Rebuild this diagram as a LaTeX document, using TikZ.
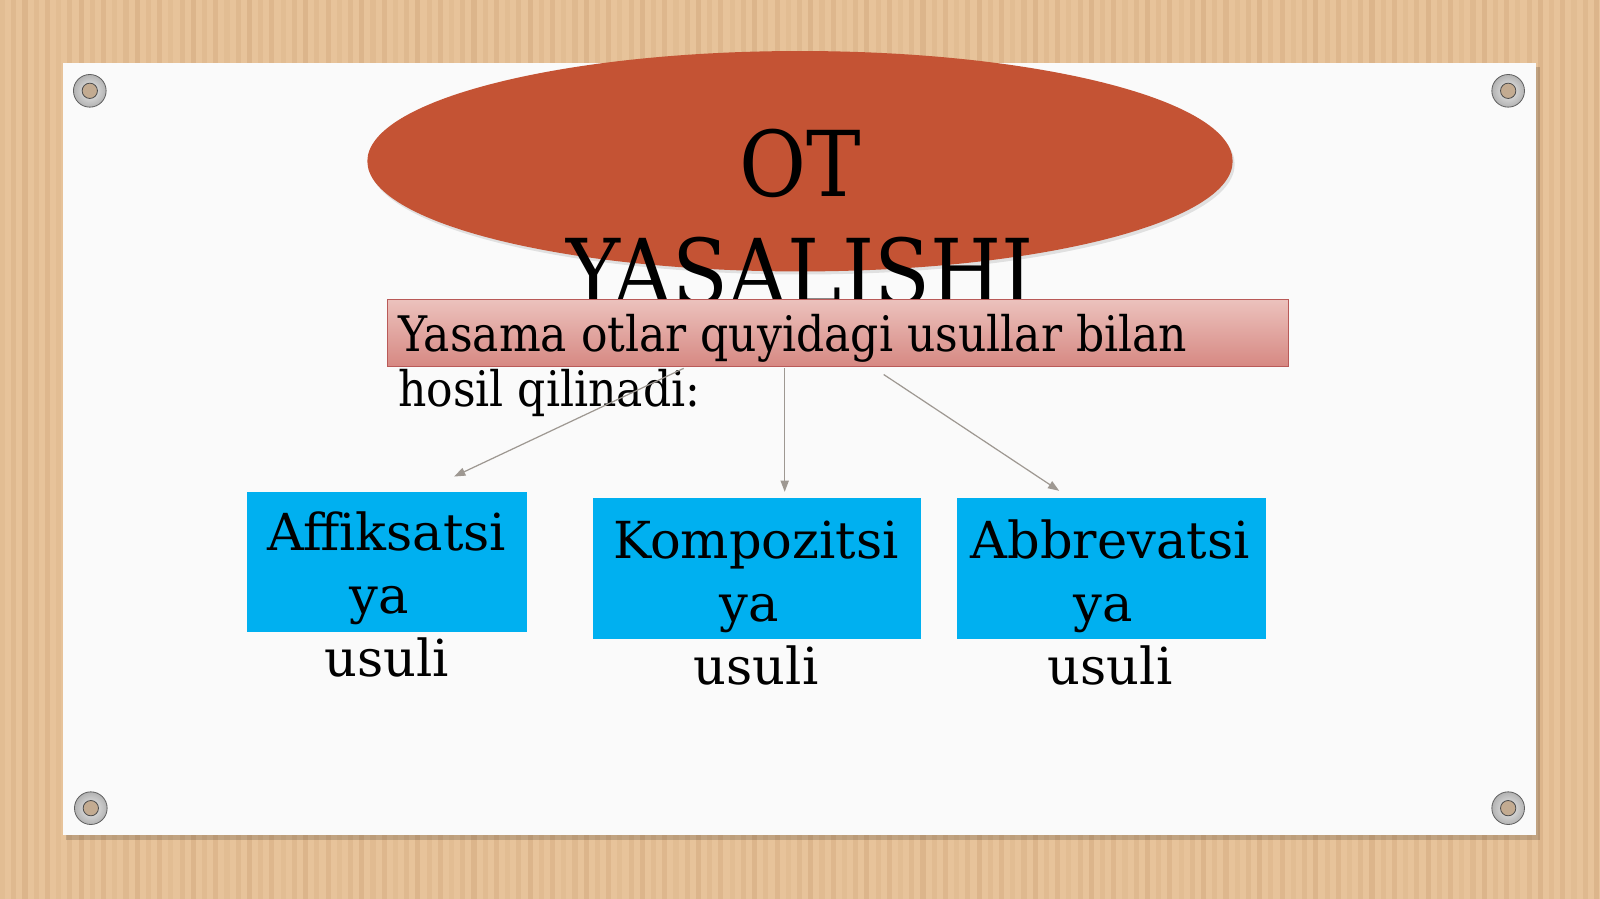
\documentclass[tikz,border=0pt]{standalone}
\usepackage{fontspec}
\setmainfont{DejaVu Serif}
\newfontfamily\narrowserif[FakeStretch=0.9]{DejaVu Serif}
\usetikzlibrary{shapes.geometric,arrows.meta,calc}
\definecolor{woodA}{RGB}{231,195,154}
\definecolor{woodB}{RGB}{214,173,130}
\definecolor{boardc}{RGB}{250,250,250}
\definecolor{ellc}{RGB}{196,83,52}
\definecolor{pinkT}{RGB}{236,194,189}
\definecolor{pinkB}{RGB}{214,136,130}
\definecolor{pinkD}{RGB}{185,90,88}
\definecolor{bluec}{RGB}{0,176,240}
\definecolor{arrc}{RGB}{158,152,146}
\tikzset{
  bluebox/.style={fill=bluec, draw=none, inner sep=0, anchor=north west},
  boxtext/.style={align=center, inner sep=0, anchor=base, font=\fontsize{50}{62}\selectfont},
  conn/.style={draw=arrc, line width=1.2pt, -{Triangle[length=11pt,width=8pt]}},
  screw/.style={circle, minimum size=32pt, inner sep=0, draw=gray!75!black, line width=0.8pt, inner color=gray!15, outer color=gray!60},
  hole/.style={circle, minimum size=15pt, inner sep=0, fill=woodA!65!gray, draw=gray!60!black, line width=0.8pt},
  titletext/.style={inner sep=0, anchor=base, font=\narrowserif\fontsize{89}{105}\selectfont}
}
\begin{document}
\begin{tikzpicture}[x=1pt,y=-1pt]
\useasboundingbox (0,0) rectangle (1568,881);
% wood background
\fill[woodA] (0,0) rectangle (1568,881);
\foreach \i in {0,...,143}{
  \pgfmathsetmacro{\xx}{\i*11}
  \pgfmathsetmacro{\op}{0.25+0.35*mod(\i*7,5)/4}
  \fill[woodB, opacity=\op] (\xx,0) rectangle ++(5,881);
}
% board
\fill[black, opacity=0.16] (65,66) rectangle (1509,823);
\fill[boardc] (62,62) rectangle (1505,818);
% screws
\foreach \n/\sx/\sy in {s1/88/89, s2/1478/89, s3/89/792, s4/1478/792}{
  \node[screw] (\n) at (\sx,\sy) {};
  \node[hole] (\n h) at (\sx,\sy) {};
}
% ellipse
\fill[black, opacity=0.10] (786,161) ellipse [x radius=424, y radius=108];
\node[ellipse, fill=ellc, minimum width=848pt, minimum height=216pt, inner sep=0] (ell) at (784,158) {};
\node[titletext] (t1) at (784,193) {OT};
\node[titletext] (t2) at (784,298) {YASALISHI};
% pink rectangle
\node[draw=pinkD, line width=0.8pt, top color=pinkT, bottom color=pinkB, minimum width=883pt, minimum height=66pt, inner sep=0, anchor=north west] (pink) at (379,293) {};
\node[inner sep=0, anchor=base west, align=left, font=\narrowserif\fontsize{48}{54}\selectfont] (ptext) at (390,398) {Yasama otlar quyidagi usullar bilan\\hosil qilinadi:};
% blue boxes
\node[bluebox, minimum width=274pt, minimum height=137pt] (b1) at (242,482) {};
\node[bluebox, minimum width=321pt, minimum height=138pt] (b2) at (581,488) {};
\node[bluebox, minimum width=302pt, minimum height=138pt] (b3) at (938,488) {};
\node[boxtext] (bt1) at (379,663) {Affiksatsi\\ya\kern14pt\\usuli};
\node[boxtext] (bt2) at (741,671) {Kompozitsi\\ya\kern14pt\\usuli};
\node[boxtext] (bt3) at (1088,671) {Abbrevatsi\\ya\kern14pt\\usuli};
% connectors
\coordinate (a1) at (670,361);
\coordinate (a2) at (769,361);
\coordinate (a3) at (866,367);
\coordinate (e1) at (445,467);
\coordinate (e2) at (769,482);
\coordinate (e3) at (1038,481);
\draw[conn] (a1) -- (e1);
\draw[conn] (a2) -- (e2);
\draw[conn] (a3) -- (e3);
\end{tikzpicture}
\end{document}
